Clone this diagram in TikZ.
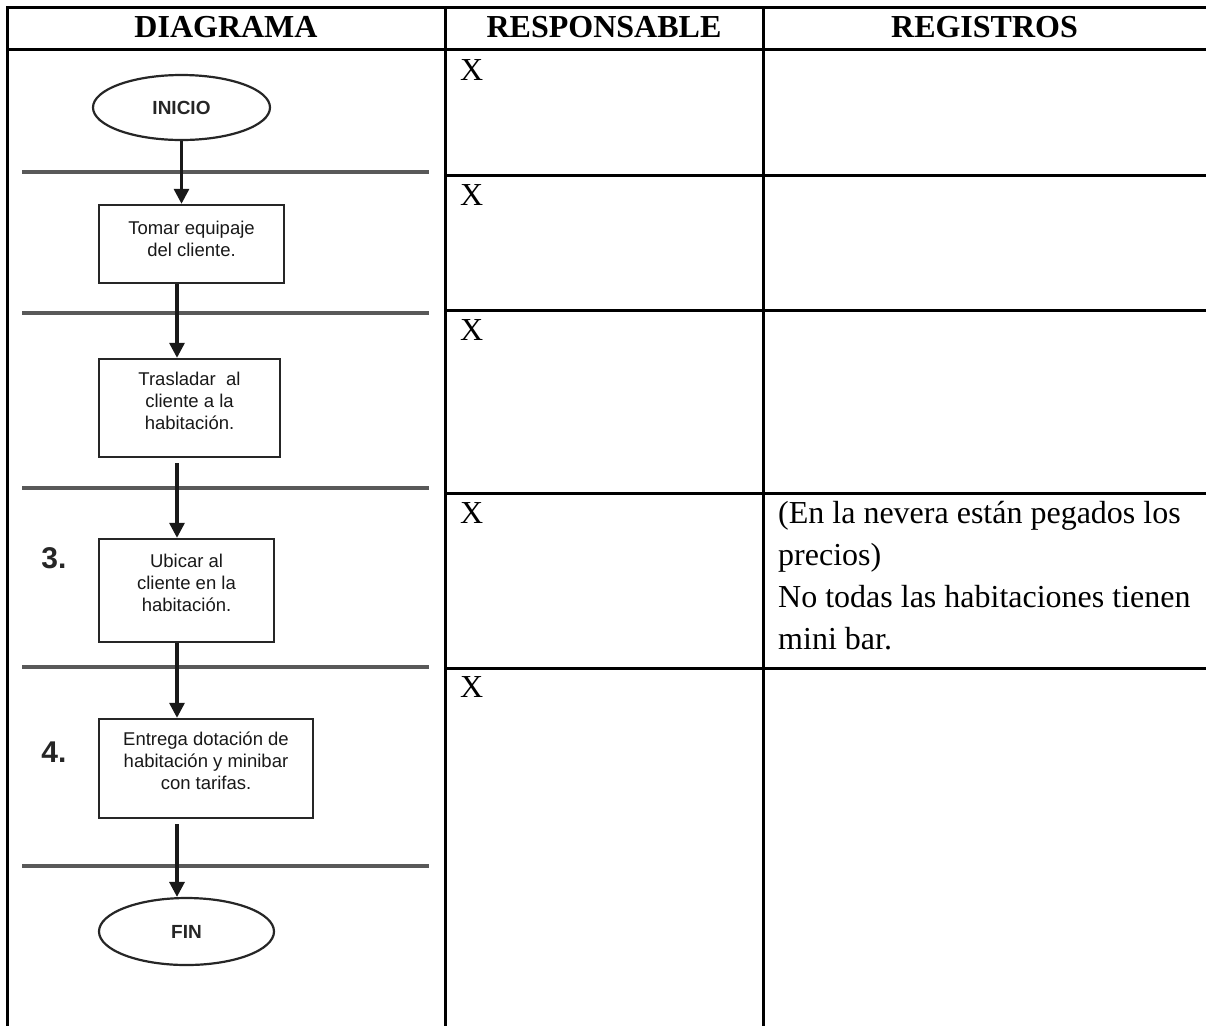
\documentclass[tikz,border=0pt]{standalone}
\usepackage{fontspec}
\setmainfont{Liberation Serif}
\newfontfamily\flowfont{Liberation Sans}
\usetikzlibrary{shapes.geometric,arrows.meta}

\begin{document}
\begin{tikzpicture}[x=1pt,y=-1pt,
  grid/.style={line width=3pt, black},
  lane/.style={line width=3.2pt, black!65},
  head/.style={font=\fontsize{32}{38}\selectfont\bfseries, anchor=base, inner sep=0},
  cell/.style={font=\fontsize{32}{42}\selectfont, anchor=base west, inner sep=0},
  terminal/.style={ellipse, draw=black!85, line width=2.2pt,
    font=\flowfont\fontsize{19}{22}\selectfont\bfseries, text=black!85, inner sep=0},
  stepbox/.style={rectangle, draw=black!85, line width=2.4pt, inner sep=0},
  steptext/.style={font=\flowfont\fontsize{18.5}{22}\selectfont, text=black!90,
    align=center, inner sep=0},
  steplabel/.style={font=\flowfont\fontsize{30}{34}\selectfont\bfseries,
    text=black!85, inner sep=0},
  flow/.style={line width=3.2pt, black!90, -{Triangle[width=15pt,length=15pt]}}
]
% page
\fill[white] (0,0) rectangle (1206,1026);
\useasboundingbox (0,0) rectangle (1206,1026);

% table rules
\draw[grid] (1206,7) -- (7,7) -- (7,1026);
\draw[grid] (7,49) -- (1206,49);
\draw[grid] (445,7) -- (445,1026);
\draw[grid] (763,7) -- (763,1026);
\foreach \r in {175,310,493,668}
  \draw[grid] (445,\r) -- (1206,\r);

% column headings
\node[head] (hdiag) at (226,37) {DIAGRAMA};
\node[head] (hresp) at (604,37) {RESPONSABLE};
\node[head] (hreg)  at (984.5,37) {REGISTROS};

% responsible marks
\node[cell] (x1) at (460,80)  {X};
\node[cell] (x2) at (460,205) {X};
\node[cell] (x3) at (460,340) {X};
\node[cell] (x4) at (460,523) {X};
\node[cell] (x5) at (460,697) {X};

% records
\node[cell] (reg4) at (778,523) {\begin{tabular}[t]{@{}l@{}}(En la nevera están pegados los\\
precios)\\
No todas las habitaciones tienen\\
mini bar.\end{tabular}};

% lane separators of the flow chart
\foreach \y in {172,313,488,667,866}
  \draw[lane] (22,\y) -- (429,\y);

% flow chart
\coordinate (axis) at (177,0);
\node[terminal, minimum width=177pt, minimum height=65pt] (inicio) at (181.5,107.5) {INICIO};

\node[stepbox, minimum width=185pt, minimum height=78pt] (b1) at (191.5,244) {};
\node[steptext] (t1) at ([yshift=5.5pt]b1.center) {Tomar equipaje\\del cliente.};

\node[stepbox, minimum width=181pt, minimum height=98pt] (b2) at (189.5,408) {};
\node[steptext] (t2) at ([yshift=7pt]b2.center) {Trasladar\ \ al\\cliente a la\\habitación.};

\node[stepbox, minimum width=175pt, minimum height=103pt] (b3) at (186.5,590.5) {};
\node[steptext] (t3) at ([yshift=7.5pt]b3.center) {Ubicar al\\cliente en la\\habitación.};
\node[steplabel] (n3) at (54,558) {3.};

\node[stepbox, minimum width=214pt, minimum height=99pt] (b4) at (206,768.5) {};
\node[steptext] (t4) at ([yshift=7.5pt]b4.center) {Entrega dotación de\\habitación y minibar\\con tarifas.};
\node[steplabel] (n4) at (54,752) {4.};

\node[terminal, minimum width=175pt, minimum height=67pt] (fin) at (186.5,931.5) {FIN};

\draw[flow] (inicio.south) -- (inicio.south |- b1.north);
\draw[flow] (b1.south -| axis) -- (b2.north -| axis);
\draw[flow, shorten <=5pt] (b2.south -| axis) -- (b3.north -| axis);
\draw[flow] (b3.south -| axis) -- (b4.north -| axis);
\draw[flow, shorten <=5pt] (b4.south -| axis) -- (fin.north -| axis);
\end{tikzpicture}
\end{document}
